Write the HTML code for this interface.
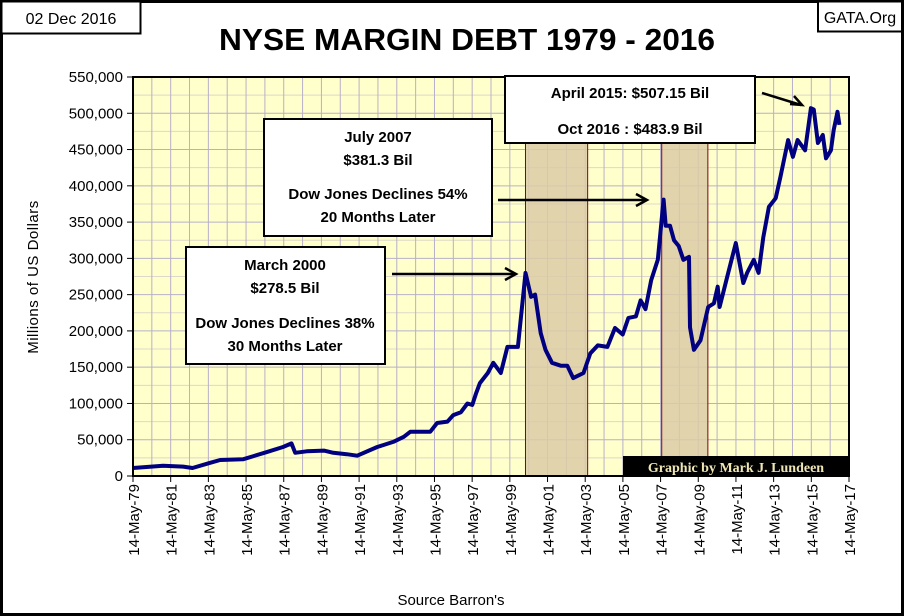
<!DOCTYPE html>
<html><head><meta charset="utf-8"><style>
html,body{margin:0;padding:0;background:#fff}
svg{display:block;font-family:"Liberation Sans",sans-serif}
</style></head><body>
<svg id="chart" width="904" height="616" viewBox="0 0 904 616">
<rect x="1.5" y="1.5" width="901" height="613" fill="#fff" stroke="#000" stroke-width="3"/>
<rect x="133" y="77" width="716" height="399" fill="#ffffcc"/>
<g id="grid"></g>
<g id="shades"></g>
<polyline id="line" fill="none" stroke="#000080" stroke-width="4" stroke-linejoin="round"/>
<rect x="133" y="77" width="716" height="399" fill="none" stroke="#000" stroke-width="2"/>
<g id="axes"></g>
<g><rect x="1.5" y="1.5" width="139" height="32" fill="#fff" stroke="#000" stroke-width="2"/><text x="71" y="24" text-anchor="middle" font-size="16">02 Dec 2016</text></g>
<g><rect x="818" y="1.5" width="84" height="30" fill="#fff" stroke="#000" stroke-width="2"/><text x="860" y="23" text-anchor="middle" font-size="16">GATA.Org</text></g>
<text x="467" y="50" text-anchor="middle" font-size="31" font-weight="bold" textLength="496" lengthAdjust="spacingAndGlyphs">NYSE MARGIN DEBT 1979 - 2016</text>
<text transform="translate(38,277) rotate(-90)" text-anchor="middle" font-size="15" letter-spacing="0.5">Millions of  US  Dollars</text>
<text x="451" y="605" text-anchor="middle" font-size="15">Source Barron's</text>
<g><rect x="264" y="119" width="228" height="117" fill="#fff" stroke="#000" stroke-width="2"/>
<g font-size="15" font-weight="bold" text-anchor="middle"><text x="378" y="142">July 2007</text><text x="378" y="165">$381.3 Bil</text><text x="378" y="199">Dow Jones Declines 54%</text><text x="378" y="222">20 Months Later</text></g></g>
<g><rect x="186" y="247" width="199" height="117" fill="#fff" stroke="#000" stroke-width="2"/>
<g font-size="15" font-weight="bold" text-anchor="middle"><text x="285" y="270">March 2000</text><text x="285" y="293">$278.5 Bil</text><text x="285" y="328">Dow Jones Declines 38%</text><text x="285" y="351">30 Months Later</text></g></g>
<g><rect x="505" y="76" width="250" height="67" fill="#fff" stroke="#000" stroke-width="2"/>
<g font-size="15" font-weight="bold" text-anchor="middle"><text x="630" y="98">April 2015: $507.15 Bil</text><text x="630" y="134">Oct 2016 : $483.9 Bil</text></g></g>
<g stroke="#000" stroke-width="2.5" fill="none">
<line x1="392" y1="274" x2="515" y2="274"/><polyline points="505,268 516,274 505,280"/>
<line x1="498" y1="200" x2="646" y2="200"/><polyline points="636,194 647,200 636,206"/>
<line x1="762" y1="93" x2="801" y2="105"/><polyline points="790,104 802,105 794,96"/>
</g>
<g><rect x="623" y="456" width="226" height="21" fill="#000"/><text x="736" y="472" text-anchor="middle" font-family="Liberation Serif,serif" font-weight="bold" font-size="14" fill="#f0e6b4">Graphic by Mark J. Lundeen</text></g>
</svg>
<script>
const years=[1979.37,1980.97,1982.03,1982.53,1983.44,1984.0,1985.21,1986.47,1987.33,1987.78,1987.98,1988.59,1989.5,1990.0,1990.71,1991.27,1992.33,1993.18,1993.74,1994.09,1995.15,1995.51,1996.06,1996.37,1996.77,1997.12,1997.38,1997.58,1997.78,1998.2,1998.49,1998.89,1999.24,1999.8,2000.2,2000.5,2000.71,2001.01,2001.26,2001.61,2002.07,2002.42,2002.73,2003.28,2003.64,2004.04,2004.55,2004.95,2005.36,2005.66,2006.06,2006.31,2006.57,2006.87,2007.22,2007.53,2007.64,2007.87,2008.08,2008.33,2008.58,2008.88,2008.93,2009.14,2009.49,2009.9,2010.2,2010.4,2010.5,2010.9,2011.36,2011.76,2011.96,2012.32,2012.57,2012.82,2013.12,2013.48,2013.73,2014.14,2014.39,2014.64,2015.04,2015.35,2015.5,2015.72,2015.98,2016.15,2016.41,2016.56,2016.76,2016.86];
const debt=[11,14,13,11,18,22,23,33,40,45,32,34,35,32,30,28,40,47,54,61,61,73,75,84,88,100,98,114,128,142,156,142,178,178,280,247,250,197,174,156,152,152,135,142,169,180,178,204,195,218,220,242,230,270,298,381,345,345,325,317,298,302,205,174,187,233,238,261,233,274,321,266,280,298,280,329,371,383,412,463,440,463,449,507,505,459,470,438,449,477,502,484];
const yTicks=[0,50000,100000,150000,200000,250000,300000,350000,400000,450000,500000,550000];
const xTickYears=[1979,1981,1983,1985,1987,1989,1991,1993,1995,1997,1999,2001,2003,2005,2007,2009,2011,2013,2015,2017];
const shadeStarts=[2000.2,2007.43];
const shadeEnds=[2003.5,2009.88];
const NS='http://www.w3.org/2000/svg';
const X0=133,X1=849,Y0=476,Y1=77,YR0=1979.37,YR1=2017.37,VMAX=550000;
function xs(y){return X0+(y-YR0)/(YR1-YR0)*(X1-X0);}
function ys(v){return Y0-v/VMAX*(Y0-Y1);}
function mk(tag,attrs,parent){const e=document.createElementNS(NS,tag);for(const k in attrs)e.setAttribute(k,attrs[k]);parent.appendChild(e);return e;}
const grid=document.getElementById('grid');
for(let v=25000;v<VMAX;v+=25000){const l=mk('line',{x1:X0,x2:X1,y1:ys(v),y2:ys(v),stroke:v%50000?'#ddd8c8':'#b8b0c8','stroke-width':1},grid);

}
for(let y=YR0+1;y<YR1;y+=1){const l=mk('line',{x1:xs(y),x2:xs(y),y1:Y1,y2:Y0,stroke:'#b8b0c8','stroke-width':1},grid);

}
const sh=document.getElementById('shades');
shadeStarts.forEach((s,i)=>{const r=mk('rect',{x:xs(s),y:Y1,width:xs(shadeEnds[i])-xs(s),height:Y0-Y1,fill:'#dccba6','fill-opacity':0.85,stroke:'#800020','stroke-width':1},sh);

});
document.getElementById('line').setAttribute('points',years.map((y,i)=>xs(y).toFixed(1)+','+ys(debt[i]*1000).toFixed(1)).join(' '));
const ax=document.getElementById('axes');
yTicks.forEach(v=>{mk('line',{x1:X0-6,x2:X0,y1:ys(v),y2:ys(v),stroke:'#000'},ax);
const t=mk('text',{x:X0-10,y:ys(v)+5,'text-anchor':'end','font-size':15},ax);


t.textContent=v.toLocaleString('en-US');});
xTickYears.forEach(y=>{const x=xs(y+0.37);mk('line',{x1:x,x2:x,y1:Y0,y2:Y0+6,stroke:'#000'},ax);
const t=mk('text',{transform:'translate('+(x+6)+','+(Y0+8)+') rotate(-90)','text-anchor':'end','font-size':15},ax);


t.textContent='14-May-'+String(y%100).padStart(2,'0');});
</script>
</body></html>
